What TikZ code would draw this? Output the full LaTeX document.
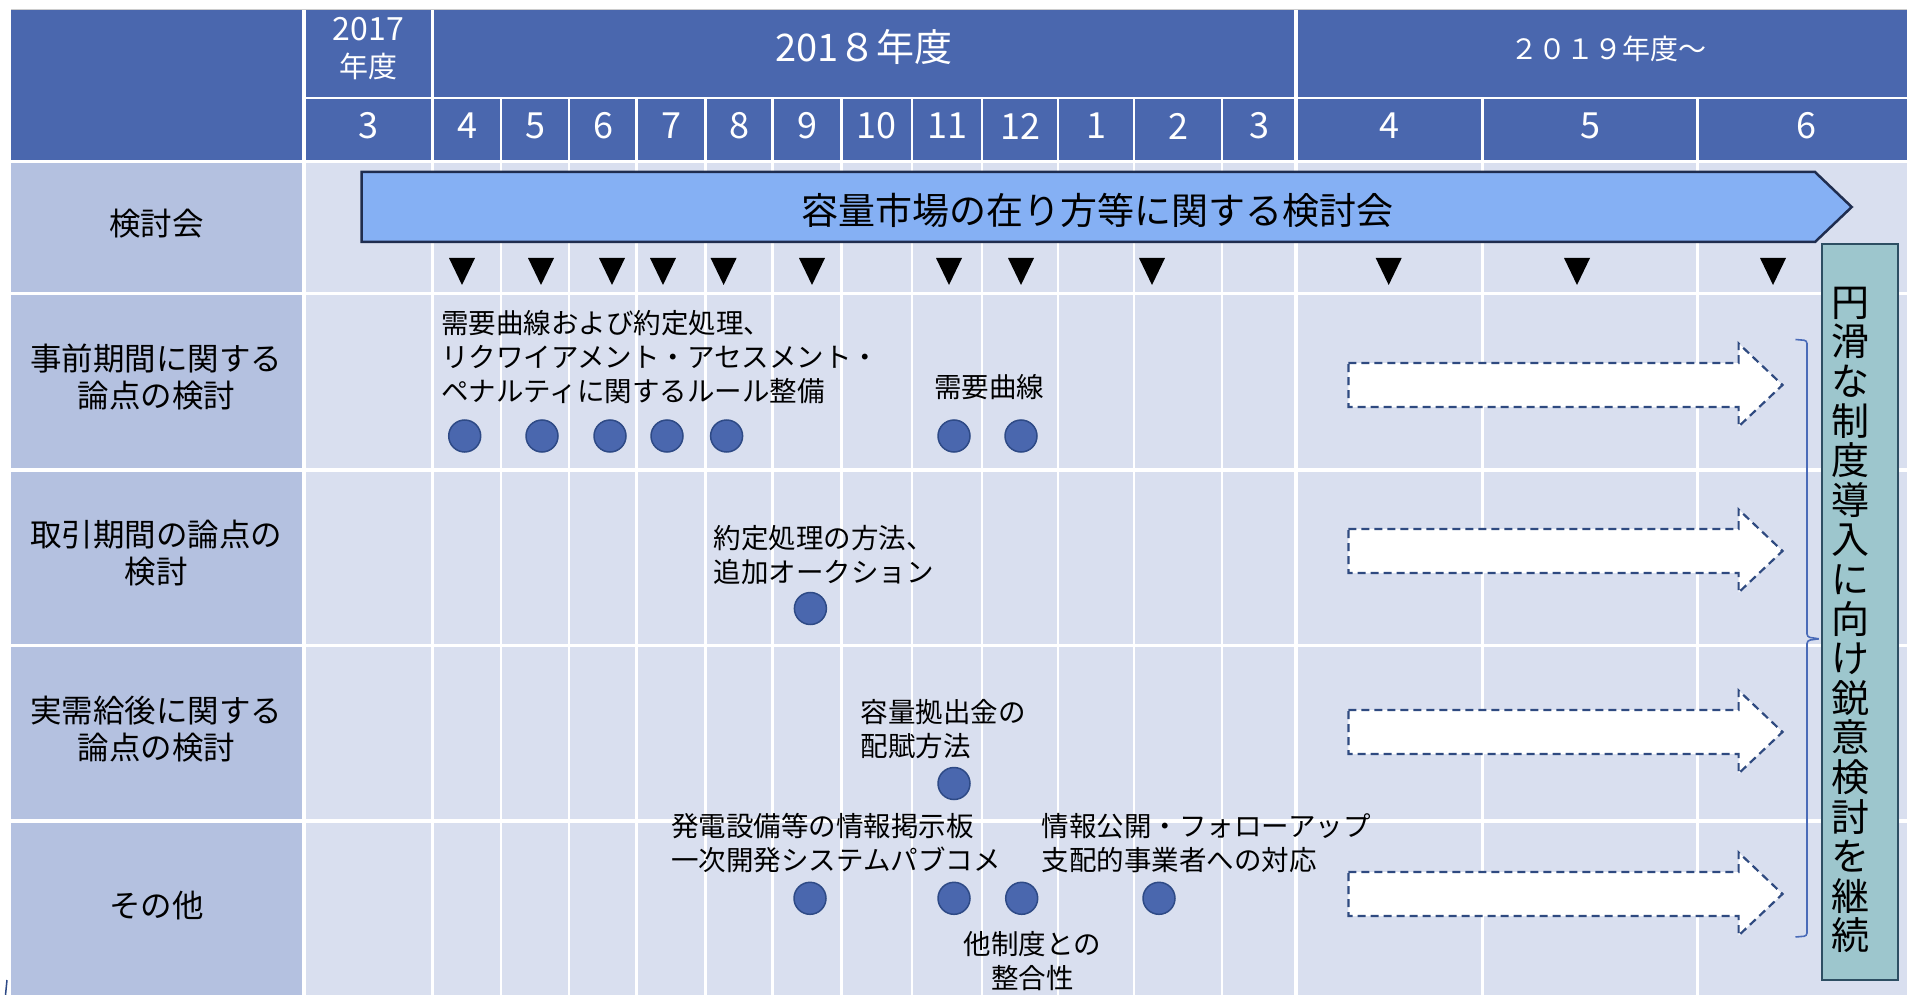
\documentclass[tikz,border=0pt]{standalone}
\usepackage{fontspec}
\setmainfont{Noto Sans CJK JP}
\definecolor{hdr}{HTML}{4A67AE}
\definecolor{leftc}{HTML}{B4C1E0}
\definecolor{cellc}{HTML}{D9DFEF}
\definecolor{barc}{HTML}{85B0F4}
\definecolor{barline}{HTML}{1F2D4F}
\definecolor{dotc}{HTML}{4A67AE}
\definecolor{dotline}{HTML}{2E4A86}
\definecolor{dashc}{HTML}{2F4A80}
\definecolor{tealc}{HTML}{9DC6CD}
\definecolor{tealline}{HTML}{2D4E62}
\definecolor{bracec}{HTML}{4A6BB8}
\begin{document}
\begin{tikzpicture}[x=1pt,y=-1pt,
  hdrtxt/.style={text=white,inner sep=0,align=center},
  montxt/.style={hdrtxt,font=\fontsize{36}{40}\selectfont},
  lbl/.style={inner sep=0,align=center,font=\fontsize{31.5}{37}\selectfont},
  note/.style={inner sep=0,align=left,anchor=west,font=\fontsize{27.5}{34}\selectfont},
  dot/.style={circle,fill=dotc,draw=dotline,line width=1.5pt,minimum size=32pt,inner sep=0},
  gridline/.style={white,line width=2.5pt},
  dasharrow/.style={draw=dashc,fill=white,line width=2.2pt,dash pattern=on 8pt off 5pt}]
\useasboundingbox (0,0) rectangle (1907,995);
\fill[white] (0,0) rectangle (1907,995);
% header and body fills
\fill[hdr] (11,10) rectangle (1907,161);
\draw[black!20,line width=1pt] (11,9.5) -- (1907,9.5);
\fill[leftc] (11,162) rectangle (304,995);
\fill[cellc] (304,162) rectangle (1907,995);
% white grid lines
\draw[white,line width=3pt] (11,162) -- (1907,162);
\draw[gridline] (304,98) -- (1907,98);
\foreach \yy in {293.5,470,645.5,821} \draw[white,line width=3.5pt] (11,\yy) -- (1907,\yy);
\foreach \xx/\ww in {304/4,432.5/3,1296/4} \draw[white,line width=\ww pt] (\xx,10) -- (\xx,995);
\foreach \xx in {501,569,636.5,705.5,772.5,841.5,912,982,1058,1134,1222} \draw[gridline] (\xx,98) -- (\xx,995);
\foreach \xx in {1482,1697.5} \draw[white,line width=3pt] (\xx,98) -- (\xx,995);
% header texts
\node[hdrtxt,font=\fontsize{29}{37}\selectfont] (y2017) at (368.5,48.8) {{\fontsize{32}{37}\selectfont 2017}\\年度};
\node[hdrtxt,font=\fontsize{38}{40}\selectfont] (y2018) at (864,47.5) {201８年度};
\node[hdrtxt,font=\fontsize{28}{32}\selectfont] (y2019) at (1608,49) {２０１９年度～};
\foreach \cx/\m [count=\i] in {368.5/3,467/4,535/5,603/6,671/7,739/8,807/9,876.5/10,947/11,1020/12,1096/1,1178/2,1259/3,1389.5/4,1590/5,1806/6}
  \node[montxt] (m\i) at (\cx,126) {\m};
% left labels
\node[lbl] (lk) at (156.5,224) {検討会};
\node[lbl] (lj) at (156.5,377.5) {事前期間に関する\\論点の検討};
\node[lbl] (lt) at (156.5,553) {取引期間の論点の\\検討};
\node[lbl] (lr) at (156.5,729) {実需給後に関する\\論点の検討};
\node[lbl] (lo) at (156.5,905.5) {その他};
% bar
\draw[fill=barc,draw=barline,line width=2.5pt] (361.6,172) -- (1815,172) -- (1851.7,207) -- (1815,242) -- (361.6,242) -- cycle;
\node[inner sep=0,font=\fontsize{37}{40}\selectfont] (bartitle) at (1097.5,210) {容量市場の在り方等に関する検討会};
% triangles
\foreach \tx in {462,541,612,663,723.6,812,949,1021,1152,1388.7,1577,1773}
  \fill[black] (\tx-13,258) -- (\tx+13,258) -- (\tx,285) -- cycle;
% row 1
\node[note] (t1) at (441,357.3) {需要曲線および約定処理、\\リクワイアメント・アセスメント・\\ペナルティに関するルール整備};
\node[inner sep=0,font=\fontsize{27.5}{34}\selectfont] (t1b) at (989,387.5) {需要曲線};
\foreach \cx [count=\i] in {464.7,542,610,667,726.6,954,1021}
  \node[dot] (a\i) at (\cx,436) {};
% row 2
\node[note] (t2) at (713.7,555) {約定処理の方法、\\追加オークション};
\node[dot] (b1) at (810.4,608.5) {};
% row 3
\node[note] (t3) at (860.4,729) {容量拠出金の\\配賦方法};
\node[dot] (c1) at (954,783.5) {};
% row 4
\node[note] (t4) at (671.2,843.3) {発電設備等の情報掲示板\\一次開発システムパブコメ};
\node[note] (t5) at (1041.7,843.3) {情報公開・フォローアップ\\支配的事業者への対応};
\node[inner sep=0,align=center,font=\fontsize{27.5}{34}\selectfont] (t6) at (1032.5,961) {他制度との\\整合性};
\foreach \cx [count=\i] in {810,954,1021.7,1159}
  \node[dot] (d\i) at (\cx,898.3) {};
% dashed arrows
\foreach \c in {385,551,732,894}
  \draw[dasharrow] (1348.4,\c-22) -- (1738.6,\c-22) -- (1738.6,\c-41.5) -- (1782.5,\c) -- (1738.6,\c+41.5) -- (1738.6,\c+22) -- (1348.4,\c+22) -- cycle;
% brace
\draw[bracec,line width=1.6pt,rounded corners=3pt] (1795.5,339.5) -- (1807,340.5) -- (1807,637) -- (1818.8,638.8);
\draw[bracec,line width=1.6pt,rounded corners=3pt] (1818.8,638.8) -- (1807,640.5) -- (1807,936) -- (1795.5,937);
% teal box
\draw[fill=tealc,draw=tealline,line width=2pt] (1822,244.3) rectangle (1898,980);
\node[inner sep=0,align=center,font=\fontsize{38}{39.6}\selectfont] (vt) at (1850,620) {円\\滑\\な\\制\\度\\導\\入\\に\\向\\け\\鋭\\意\\検\\討\\を\\継\\続};
% small stroke at bottom left
\draw[dotline,line width=1.5pt] (7,980) -- (5.5,995);
\end{tikzpicture}
\end{document}
